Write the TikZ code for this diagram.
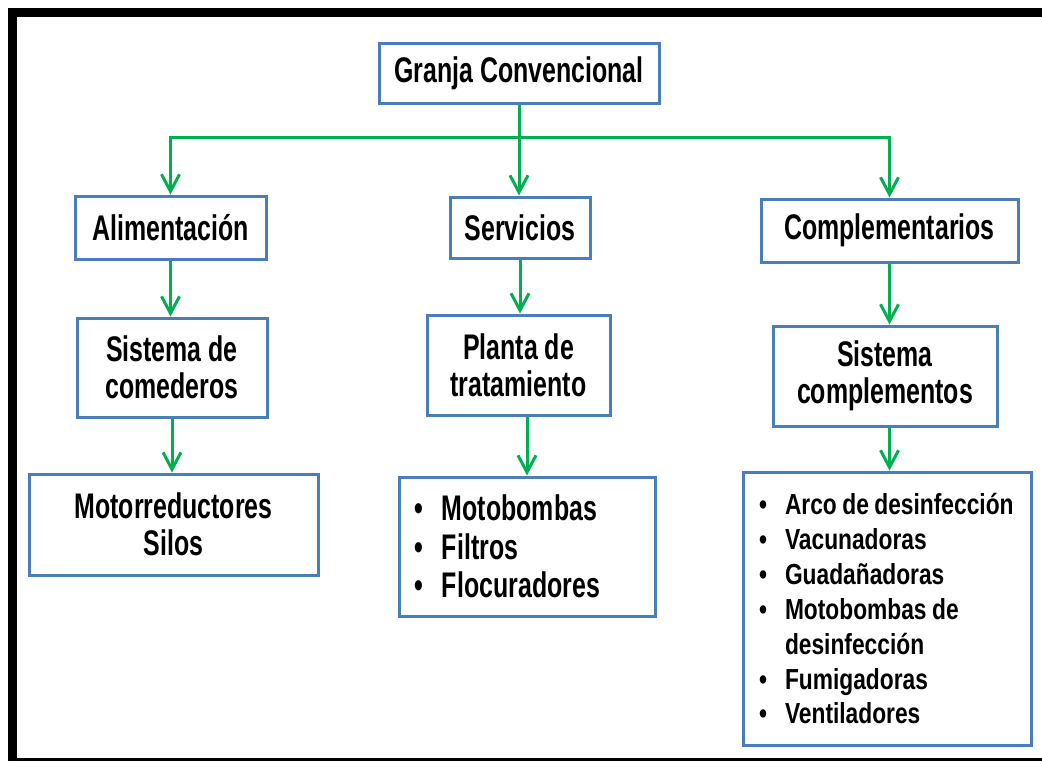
\documentclass[tikz,border=0pt]{standalone}
\usepackage{fontspec}
\usetikzlibrary{arrows.meta}
\newfontfamily\fa{Liberation Sans Bold}[FakeStretch=0.70]
\newfontfamily\fb{Liberation Sans Bold}[FakeStretch=0.785]
\definecolor{boxblue}{RGB}{74,126,187}
\definecolor{arrgreen}{RGB}{0,176,80}
\newcommand{\itA}[1]{\mbox{\makebox[28pt][l]{•}#1}}
\newcommand{\itB}[1]{\mbox{\spaceskip=5.5pt\relax\makebox[26pt][l]{•}#1}}
\newcommand{\contB}[1]{\mbox{\spaceskip=5.5pt\relax\hspace*{26pt}#1}}
\tikzset{
  box/.style={draw=boxblue, line width=3pt, fill=white, inner sep=0pt,
    font=\fa\fontsize{35.6}{37}\selectfont, align=center, text=black},
  listA/.style={box, align=left, inner xsep=15pt,
    font=\fa\fontsize{35.6}{38.5}\selectfont},
  listB/.style={box, align=left, inner xsep=16pt,
    font=\fb\fontsize{29}{35}\selectfont},
  arr/.style={draw=arrgreen, line width=3pt,
    -{Straight Barb[length=17pt,width=18pt]}},
  frameline/.style={draw=black, line join=miter}
}
\begin{document}
\begin{tikzpicture}[x=1pt,y=-1pt]
\useasboundingbox (0,0) rectangle (1042,761);
\fill[white] (0,0) rectangle (1042,761);
% frame
\draw[frameline, line width=9pt] (12.5,761) -- (12.5,12.5) -- (1050,12.5);
\draw[frameline, line width=2.5pt] (8,759.5) -- (1050,759.5);
% nodes
\node[box, minimum width=280pt, minimum height=60pt] (granja) at (519,73) {Granja Convencional};
\node[box, minimum width=191pt, minimum height=63pt] (alim) at (170.5,227.5) {Alimentación};
\node[box, minimum width=140pt, minimum height=61pt] (serv) at (520,227.5) {Servicios};
\node[box, minimum width=257pt, minimum height=63pt] (comp) at (889.5,230.5) {Complementarios};
\node[box, minimum width=190pt, minimum height=99pt] (sist) at (172,367.5) {Sistema de\\comederos};
\node[box, minimum width=183pt, minimum height=100pt] (planta) at (518.5,365) {Planta de\\tratamiento};
\node[box, minimum width=224pt, minimum height=100pt] (sistc) at (885,376) {Sistema\\complementos};
\node[box, minimum width=289pt, minimum height=101pt] (motor) at (173.5,524.5) {Motorreductores\\Silos};
\node[listA, text width=226pt, minimum height=139pt] (motob) at (527,546.5)
  {\itA{Motobombas}\\\itA{Filtros}\\\itA{Flocuradores}};
\node[listB, text width=256pt, minimum height=273pt] (arco) at (887,608.5)
  {\itB{Arco de desinfección}\\\itB{Vacunadoras}\\\itB{Guadañadoras}\\\itB{Motobombas de}\\\contB{desinfección}\\\itB{Fumigadoras}\\\itB{Ventiladores}};
% connectors
\coordinate (bus) at (519,137);
\draw[arr] (granja.south) -- (granja.south |- bus) -| (alim.north);
\draw[arr] (granja.south |- bus) -| (comp.north);
\draw[arr] (granja.south) -- (granja.south |- serv.north);
\draw[arr] (alim.south) -- (alim.south |- sist.north);
\draw[arr] (sist.south) -- (sist.south |- motor.north);
\draw[arr] (serv.south) -- (serv.south |- planta.north);
\draw[arr] (motob.north |- planta.south) -- (motob.north);
\draw[arr] (comp.south) -- (comp.south |- sistc.north);
\draw[arr] (comp.south |- sistc.south) -- (comp.south |- arco.north);
\end{tikzpicture}
\end{document}
